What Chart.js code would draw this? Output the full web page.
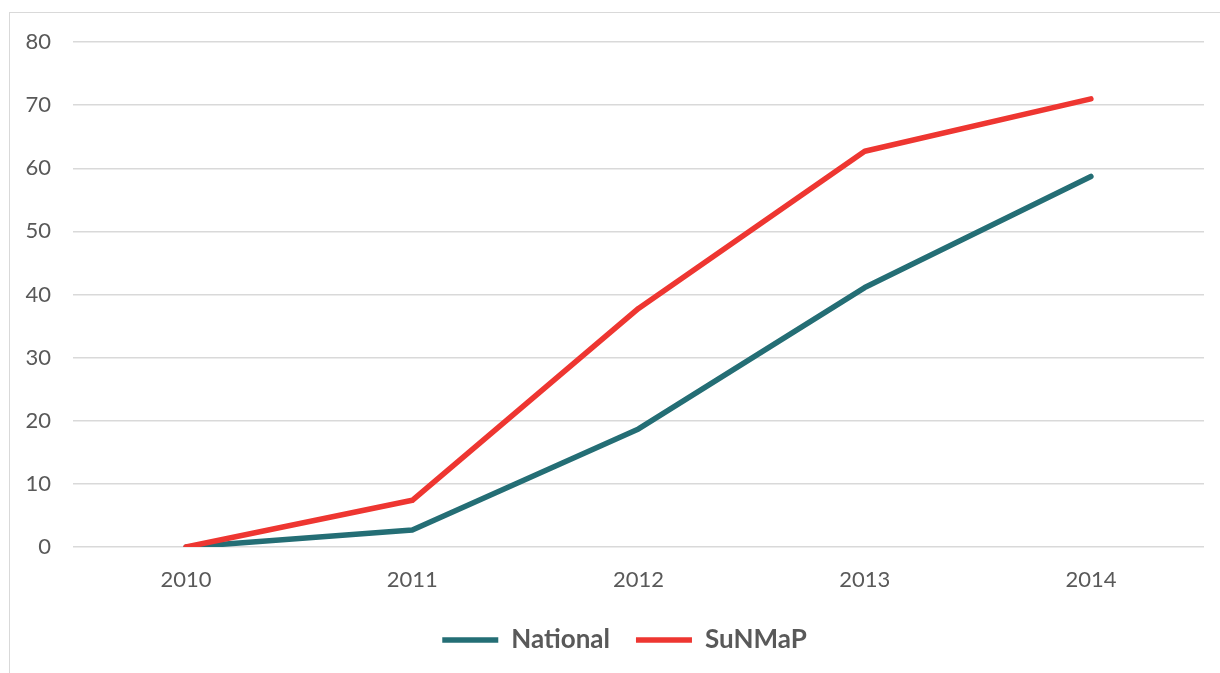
<!DOCTYPE html>
<html>
<head>
<meta charset="utf-8">
<script src="https://cdn.jsdelivr.net/npm/chart.js@4"></script>
<style>
  html, body { margin:0; padding:0; background:#fff; overflow:hidden; }
  #wrap { position:relative; width:1220px; height:673px; }
  #frame { position:absolute; left:9px; top:12px; width:1300px; height:700px;
           border-left:1px solid #d9d9d9; border-top:1px solid #d9d9d9; }
  canvas { position:absolute; left:0; top:0; }
</style>
</head>
<body>
<div id="wrap">
  <div id="frame"></div>
  <canvas id="chart" width="1220" height="673"></canvas>
</div>
<script>
const years = ['2010', '2011', '2012', '2013', '2014'];
const national = [0, 2.7, 18.7, 41.1, 58.7];
const sunmap = [0, 7.4, 37.8, 62.7, 71.0];
const yTicks = [0, 10, 20, 30, 40, 50, 60, 70, 80];

const FONT = 'Lato, "Open Sans", sans-serif';
const GREY = '#595959';

// legend sits a little right of the canvas centre in the original
const legendShift = {
  id: 'legendShift',
  afterLayout(chart) { if (chart.legend) chart.legend.left += 45; }
};

new Chart(document.getElementById('chart'), {
  type: 'line',
  data: {
    labels: years,
    datasets: [
      { label: 'National', data: national, borderColor: '#246e75', backgroundColor: '#246e75',
        borderWidth: 5.5, pointRadius: 0, borderCapStyle: 'round', borderJoinStyle: 'round', order: 1 },
      { label: 'SuNMaP', data: sunmap, borderColor: '#ee3631', backgroundColor: '#ee3631',
        borderWidth: 5.5, pointRadius: 0, borderCapStyle: 'round', borderJoinStyle: 'round', order: 0 }
    ]
  },
  options: {
    responsive: false,
    animation: false,
    layout: { padding: { top: 42, right: 16, left: 0, bottom: 10 } },
    plugins: {
      tooltip: { enabled: false },
      legend: {
        position: 'bottom',
        labels: {
          usePointStyle: true,
          pointStyle: 'line',
          pointStyleWidth: 56,
          padding: 26,
          color: GREY,
          font: { family: FONT, size: 26, weight: 'bold' },
          sort: (a, b) => a.datasetIndex - b.datasetIndex
        }
      }
    },
    scales: {
      x: {
        offset: true,
        grid: { display: false },
        border: { display: false },
        ticks: { color: GREY, padding: 12, font: { family: FONT, size: 22 } },
        afterFit: s => { s.height = 54; }
      },
      y: {
        min: 0, max: 80,
        afterBuildTicks: s => { s.ticks = yTicks.map(v => ({ value: v })); },
        grid: { color: '#d9d9d9', lineWidth: 1.5, drawTicks: false },
        border: { display: false },
        ticks: { color: GREY, padding: 22, font: { family: FONT, size: 22 } },
        afterFit: s => { s.width = 73; }
      }
    }
  },
  plugins: [legendShift]
});
</script>
</body>
</html>
